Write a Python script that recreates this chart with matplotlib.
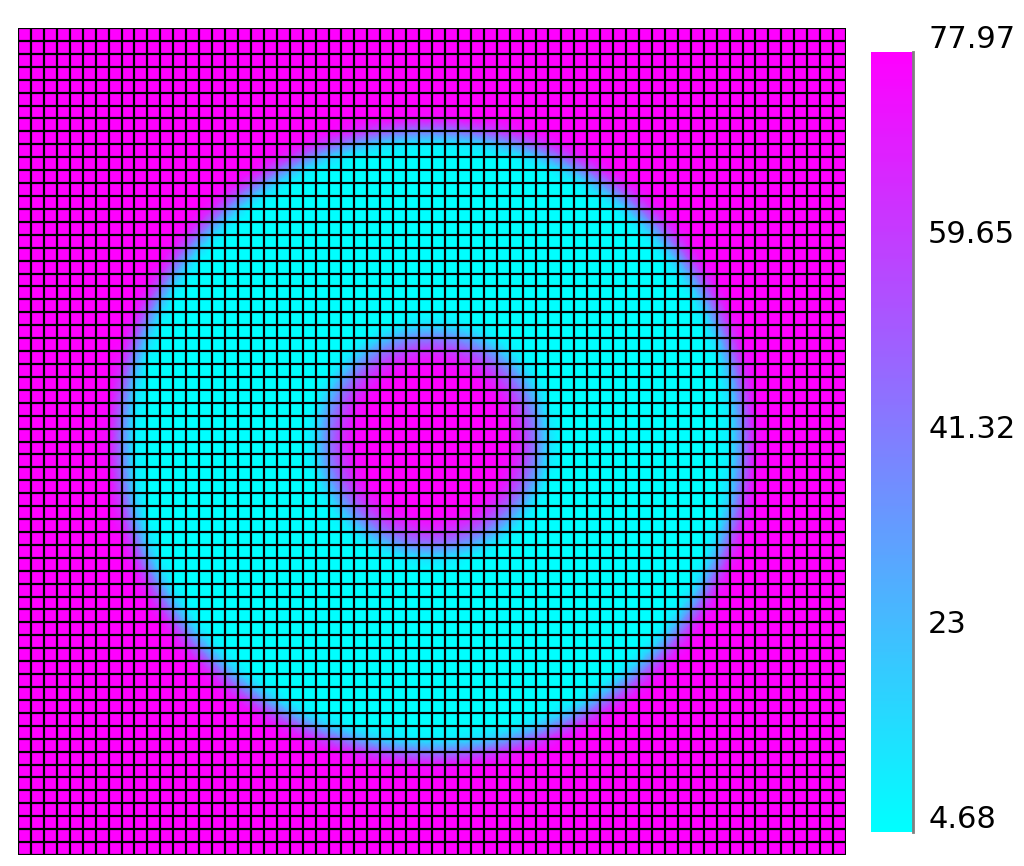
import matplotlib
matplotlib.use("Agg")
import matplotlib.pyplot as plt
import matplotlib.transforms as mtransforms
import numpy as np

# mesh size (cells per side)
n_cells = 64

# radial profile of the field (radius in cells from the centre)
profile_r = [0.0, 5.8, 6.9, 8.0, 9.0, 9.5, 22.8, 23.4, 24.0, 24.6, 25.2, 46.0]
profile_v = [77.97, 77.97, 66.0, 42.0, 14.0, 4.68, 4.68, 17.0, 41.0, 64.0, 77.97, 77.97]

vmin, vmax = 4.68, 77.97
tick_values = [4.68, 23.0, 41.32, 59.65, 77.97]
tick_labels = ["4.68", "23", "41.32", "59.65", "77.97"]

# node grid
xn = np.arange(n_cells + 1)
yn = np.arange(n_cells + 1)
X, Y = np.meshgrid(xn, yn)
r = np.hypot(X - n_cells / 2, Y - n_cells / 2)
field = np.interp(r, profile_r, profile_v)

fig = plt.figure(figsize=(10.24, 8.66), dpi=100)
ax = fig.add_axes([18 / 1024, 11 / 866, 828 / 1024, 827 / 866])
ax.pcolormesh(X, Y, field, cmap="cool", vmin=vmin, vmax=vmax, shading="gouraud")
ax.vlines(xn, 0, n_cells, colors="black", linewidth=1.6)
ax.hlines(yn, 0, n_cells, colors="black", linewidth=1.6)
ax.set_xlim(0, n_cells)
ax.set_ylim(0, n_cells)
ax.set_axis_off()

# colour bar
cax = fig.add_axes([871 / 1024, 34 / 866, 42 / 1024, 780 / 866])
grad = np.linspace(vmin, vmax, 256).reshape(-1, 1)
cax.imshow(grad, cmap="cool", vmin=vmin, vmax=vmax, aspect="auto",
           origin="lower", extent=[0, 1, vmin, vmax])
cax.set_xlim(0, 1)
cax.set_ylim(vmin, vmax)
cax.set_xticks([])
cax.set_yticks([])
for side in ["top", "bottom", "left"]:
    cax.spines[side].set_visible(False)
cax.spines["right"].set_color("grey")
cax.spines["right"].set_linewidth(2)

off = mtransforms.offset_copy(cax.transData, fig=fig, x=0, y=4, units="dots")
trans = mtransforms.blended_transform_factory(cax.transAxes, off)
for v, lab in zip(tick_values, tick_labels):
    cax.text(1.36, v, lab, transform=trans, va="baseline", ha="left",
             fontsize=22, color="black")

fig.savefig("out.png", dpi=100)
